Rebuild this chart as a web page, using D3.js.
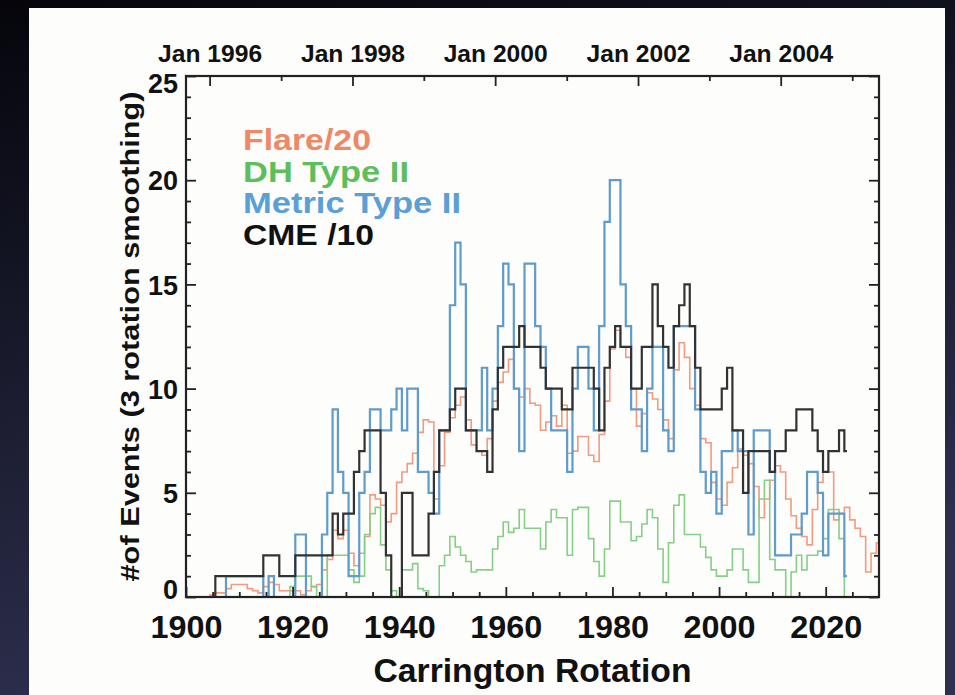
<!DOCTYPE html>
<html><head><meta charset="utf-8">
<script src="https://cdn.jsdelivr.net/npm/d3@7/dist/d3.min.js"></script>
<style>
html,body{margin:0;padding:0;background:#000;}
svg{display:block;}
text{font-family:"Liberation Sans",Arial,Helvetica,sans-serif;font-weight:bold;}
</style></head>
<body>
<svg id="chart" width="955" height="695"></svg>
<script>
// ---------- DATA ----------
const firstRotation = 1900;
const lastRotation = 2030;
const rotations = d3.range(firstRotation, lastRotation + 1);

// Flare/20 (CR 1900..2030)
const flare = [0,0,0,0,0,0.1,0.2,0.2,0.4,0.6,
 0.6,0.6,0.4,0.3,0.2,0.5,0.7,0.6,0.3,0.3,
 0.3,0.3,0.1,0.3,0.5,0.6,1.3,1.8,3.2,2.8,
 3.2,2.1,1.5,2.1,2.9,4.9,4.7,4.4,3.6,4.0,
 5.5,6.0,6.4,6.9,7.9,8.5,8.4,4.7,6.3,7.9,
 8.6,9.2,9.6,8.5,7.3,7.0,6.8,7.6,9.4,10.3,
 10.8,11.4,10.0,9.6,10.0,9.3,9.2,8.0,8.4,8.7,
 8.2,9.2,6.9,7.0,7.7,7.7,6.8,6.5,7.8,9.4,
 11.9,12.8,12.0,11.5,10.0,8.2,8.8,9.8,9.5,9.0,
 8.5,7.6,10.9,12.2,11.5,10.0,9.2,7.6,7.4,5.5,
 4.7,4.4,5.5,6.2,7.1,6.8,6.4,5.3,3.8,4.7,
 5.6,6.3,6.0,4.7,3.9,3.3,2.9,2.5,4.2,5.5,
 6.0,6.0,3.7,4.0,4.3,3.7,3.3,2.9,1.2,2.1,
 2.6];

// DH Type II
const dhTypeII = [null,null,null,null,null,null,null,null,null,null,
 null,null,null,null,null,null,null,null,null,0,
 0.5,1,1,1,0.5,0,0,2,2,2,
 2,1.3,0.7,1,3,4,4.3,2.5,1.3,0.3,
 0,1.3,1.3,1.6,0.4,0.3,0,0,1.5,2,
 2.9,2.4,2,1.7,1.2,1.3,1.3,1.3,2.3,2.9,
 3.6,3.1,3.3,4.2,3.3,3.3,3.3,2.3,3.6,4.2,
 3.8,3.8,2,4.2,4.3,4.3,2.8,1.7,1,2.3,
 4.6,4.6,3.6,3.6,2.7,2.9,3.5,4.2,3.8,2.3,
 0.7,2.6,4.4,4.9,3,3,3,2.4,1.9,1.3,
 1,1,1.3,2.3,2.3,1.3,0.7,0.7,4.7,5.6,
 1.8,1.3,1.3,0,1.2,2,1.3,2,2,2.2,
 2.8,4.2,4.2,2.8,0,null,null,null,null,null,
 null];

// Metric Type II
const metricTypeII = [null,null,null,null,0,0,0,0,1,1,
 1,1,1,1,1,0,1,0,0,0,
 0,3,3,0,0,0,3,5,9,6,
 5,1,1,5,6,9,9,8,8,9,
 10,8,10,10,6,6,5,4,8,8,
 14,17,15,8,8,8,11,8,10,13,
 16,15,10,7,16,16,13,12,10,8,
 8,8,6,10,12,12,10,8,13,18,
 20,20,15,13,9,9,7,10,12,12,
 8,7,13,13,13,13,9,6,5,6,
 4,7,7,8,7,7,3,8,8,8,
 6,2,2,2,3,3,4,6,6,5,
 2,4,4,4,1,null,null,null,null,null,
 null];

// CME/10
const cme = [null,null,null,null,0,0,1,1,1,1,
 1,1,1,1,1,2,2,2,1,1,
 1,2,2,2,2,2,2,2,4,3,
 4,4,6,7,8,8,8,5,2,0,
 0,5,5,2,2,2,4,6,8,8,
 9,10,10,8,8,7,7,6,9,11,
 12,12,12,13,12,12,12,11,10,10,
 10,9,9,11,11,11,11,10,8,11,
 12,13,12,12,10,10,12,12,15,13,
 12,11,13,14,15,13,11,9,9,9,
 9,10,11,8,8,5,7,7,7,7,
 6,7,7,8,8,9,9,9,8,7,
 6,7,7,8,7,null,null,null,null,null,
 null];

const yTicksMajor = [0, 5, 10, 15, 20, 25];
const xTicksMajor = [1900, 1920, 1940, 1960, 1980, 2000, 2020];
const topYears = [1996, 1998, 2000, 2002, 2004];

const seriesNames = ["Flare/20", "DH Type II", "Metric Type II", "CME /10"];
const seriesColors = ["#ee8866", "#5cbf5c", "#5a9fd6", "#111111"];
const lineColors = ["#f39a7f", "#86cf86", "#5f9bcb", "#333333"];
const lineWidths = [1.6, 1.6, 2.2, 2.2];
const legendWidths = [128, 166, 218, 131];

// ---------- DRAW ----------
const svg = d3.select("#chart");
const defs = svg.append("defs");
const bg = defs.append("linearGradient").attr("id","bg").attr("x1","0").attr("y1","0").attr("x2","0.3").attr("y2","1");
bg.append("stop").attr("offset","0").attr("stop-color","#05050b");
bg.append("stop").attr("offset","1").attr("stop-color","#2e3150");
defs.append("filter").attr("id","soft").append("feGaussianBlur").attr("stdDeviation",0.45);

svg.append("rect").attr("width",955).attr("height",695).attr("fill","url(#bg)");
svg.append("rect").attr("x",29).attr("y",8).attr("width",916).attr("height",700).attr("fill","#fdfdfb");

const x = d3.scaleLinear().domain([firstRotation, lastRotation]).range([186, 879]);
const y = d3.scaleLinear().domain([0, 25]).range([597, 76]);

// time scale aligned to Carrington rotations
const daysPerRot = 27.2753;
const refDate = new Date(Date.UTC(1996,0,1)), refRot = 1904.43;
const rotToDate = r => new Date(refDate.getTime() + (r - refRot) * daysPerRot * 864e5);
const xt = d3.scaleUtc().domain([rotToDate(firstRotation), rotToDate(lastRotation)]).range(x.range());

const g = svg.append("g");
const lines = [flare, dhTypeII, metricTypeII, cme];
const lineGen = d3.line().defined(d => d.v != null).x(d => x(d.r)).y(d => y(d.v)).curve(d3.curveStep);
lines.forEach((vals, i) => {
  const data = rotations.map((r, k) => ({r, v: vals[k]}));
  g.append("path").datum(data).attr("d", lineGen).attr("fill","none")
    .attr("stroke", lineColors[i]).attr("stroke-width", lineWidths[i])
    .attr("stroke-linejoin","miter").attr("filter","url(#soft)");
});

// axes
const axisColor = "#222";
const fontFam = '"Liberation Sans",Arial,sans-serif';
function styleAxis(sel){
  sel.select(".domain").remove();
  sel.selectAll("line").attr("stroke", axisColor).attr("stroke-width", 1.8);
}
function styleText(size){
  return s => { s.select(".domain").remove();
    s.selectAll("text").attr("font-size",size).attr("fill","#111").attr("font-family",fontFam).attr("font-weight","bold"); };
}
const minorY = d3.range(0, 26);
[[x.range()[0], d3.axisRight], [x.range()[1], d3.axisLeft]].forEach(([xp, ax]) => {
  svg.append("g").attr("transform",`translate(${xp},0)`)
    .call(ax(y).tickValues(minorY.filter(v=>v%5)).tickSize(5).tickFormat("")).call(styleAxis);
  svg.append("g").attr("transform",`translate(${xp},0)`)
    .call(ax(y).tickValues(yTicksMajor).tickSize(10).tickFormat("")).call(styleAxis);
});
// y labels (end labels nudged inside, as in the original)
svg.append("g").attr("transform",`translate(${x.range()[0]},0)`)
  .call(d3.axisLeft(y).tickValues(yTicksMajor).tickSize(0).tickPadding(8))
  .call(styleText(27))
  .call(s => s.selectAll(".tick text").attr("dy", d => d === 25 ? "0.62em" : d === 0 ? "0.05em" : "0.36em"));
// bottom
const minorX = d3.range(1905, 2030, 5);
svg.append("g").attr("transform",`translate(0,${y(0)})`)
  .call(d3.axisTop(x).tickValues(minorX.filter(v=>v%20)).tickSize(5).tickFormat("")).call(styleAxis);
svg.append("g").attr("transform",`translate(0,${y(0)})`)
  .call(d3.axisTop(x).tickValues(xTicksMajor).tickSize(10).tickFormat("")).call(styleAxis);
svg.append("g").attr("transform",`translate(0,${y(0)})`)
  .call(d3.axisBottom(x).tickValues(xTicksMajor).tickSize(0).tickPadding(18).tickFormat(d3.format("d")))
  .call(styleText(32))
  .call(s => s.selectAll(".tick text").attr("textLength",72).attr("lengthAdjust","spacingAndGlyphs"));
// top (time)
const yearTicks = d3.utcYear.range(xt.domain()[0], xt.domain()[1]);
svg.append("g").attr("transform",`translate(0,${y(25)})`)
  .call(d3.axisBottom(xt).tickValues(yearTicks.filter(d=>d.getUTCFullYear()%2)).tickSize(5).tickFormat("")).call(styleAxis);
svg.append("g").attr("transform",`translate(0,${y(25)})`)
  .call(d3.axisBottom(xt).tickValues(yearTicks.filter(d=>d.getUTCFullYear()%2===0)).tickSize(10).tickFormat("")).call(styleAxis);
svg.append("g").attr("transform",`translate(0,${y(25)})`)
  .call(d3.axisTop(xt).tickValues(topYears.map(yr=>new Date(Date.UTC(yr,0,1)))).tickSize(0).tickPadding(14)
     .tickFormat(d => "Jan " + d.getUTCFullYear()))
  .call(styleText(23))
  .call(s => s.selectAll(".tick text").attr("textLength",104).attr("lengthAdjust","spacingAndGlyphs"));

// frame
svg.append("rect").attr("x",x.range()[0]).attr("y",y(25)).attr("width",x.range()[1]-x.range()[0]).attr("height",y(0)-y(25))
  .attr("fill","none").attr("stroke",axisColor).attr("stroke-width",2.2);

// titles
svg.append("text").attr("x",(x.range()[0]+x.range()[1])/2).attr("y",682).attr("text-anchor","middle")
  .attr("font-size",33).attr("fill","#111").attr("textLength",318).attr("lengthAdjust","spacingAndGlyphs")
  .text("Carrington Rotation");
svg.append("text").attr("transform",`translate(139,${(y(0)+y(25))/2}) rotate(-90)`).attr("text-anchor","middle")
  .attr("font-size",26).attr("fill","#111").attr("textLength",490).attr("lengthAdjust","spacingAndGlyphs")
  .text("#of Events (3 rotation smoothing)");

// legend
const legendTop = 150, legendStep = 31.5;
seriesNames.forEach((n,i) => {
  svg.append("text").attr("x",243).attr("y",legendTop + i*legendStep)
    .attr("font-size",29).attr("fill",seriesColors[i])
    .attr("textLength",legendWidths[i]).attr("lengthAdjust","spacingAndGlyphs").text(n);
});
</script>
</body></html>
